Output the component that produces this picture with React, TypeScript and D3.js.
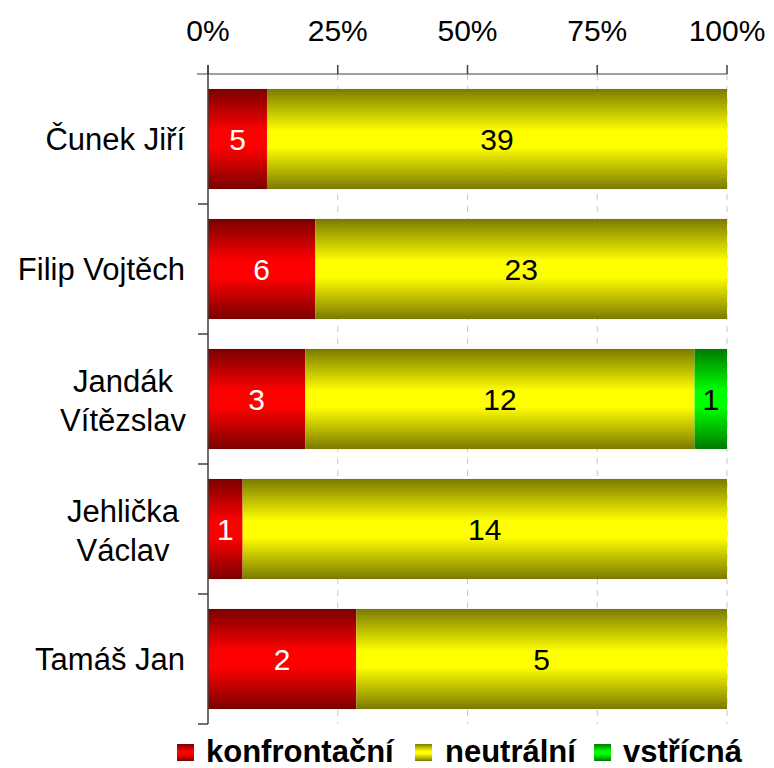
import React from "react";
import * as d3 from "d3";

const categories: string[][] = [["Čunek Jiří"], ["Filip Vojtěch"], ["Jandák", "Vítězslav"], ["Jehlička", "Václav"], ["Tamáš Jan"]];
const konfrontacni = [5, 6, 3, 1, 2];
const neutralni = [39, 23, 12, 14, 5];
const vstricna = [0, 0, 1, 0, 0];
const seriesNames = ["konfrontační", "neutrální", "vstřícná"];
const tickValues = [0, 0.25, 0.5, 0.75, 1];

const W = 774, H = 768;
const margin = { left: 208, right: 47, top: 74, bottom: 44 };
const colors = [
  { dark: "#7a0000", light: "#ff0000", text: "#ffffff" },
  { dark: "#7a7a00", light: "#ffff00", text: "#000000" },
  { dark: "#007a00", light: "#00ff00", text: "#000000" },
];
const FONT = "'Liberation Sans', Arial, sans-serif";

export default function App() {
  const x = d3.scaleLinear().domain([0, 1]).range([margin.left, W - margin.right]);
  const y = d3
    .scaleBand<number>()
    .domain(categories.map((_, i) => i))
    .range([margin.top, H - margin.bottom])
    .paddingInner(0.23)
    .paddingOuter(0.115);
  const step = y.step();
  const series = [konfrontacni, neutralni, vstricna];
  const rows = categories.map((_, i) => {
    const total = series.reduce((s, a) => s + a[i], 0);
    let acc = 0;
    return series.map((a, k) => {
      const x0 = acc / total;
      acc += a[i];
      return { k, v: a[i], x0, x1: acc / total };
    });
  });
  const yTop = margin.top;
  const yBot = H - margin.bottom;

  const legendItems = [
    { sx: 177, tx: 206 },
    { sx: 415, tx: 445 },
    { sx: 594, tx: 623 },
  ];

  return (
    <svg width={W} height={H} style={{ position: "absolute", left: 0, top: 0 }} fontFamily={FONT}>
      <defs>
        {colors.map((c, k) => (
          <linearGradient key={k} id={`g${k}`} x1="0" y1="0" x2="0" y2="1">
            <stop offset="0" stopColor={c.dark} />
            <stop offset="0.42" stopColor={c.light} />
            <stop offset="0.58" stopColor={c.light} />
            <stop offset="1" stopColor={c.dark} />
          </linearGradient>
        ))}
      </defs>
      <rect width={W} height={H} fill="#fff" />
      {tickValues.slice(1).map((t) => (
        <line key={t} x1={x(t)} x2={x(t)} y1={yTop} y2={yBot} stroke="#c8c8c8" strokeWidth={1} strokeDasharray="6,6" />
      ))}
      {rows.map((r, i) =>
        r.map((s) =>
          s.v > 0 ? (
            <g key={`${i}-${s.k}`}>
              <rect x={x(s.x0)} y={y(i)!} width={x(s.x1) - x(s.x0)} height={y.bandwidth()} fill={`url(#g${s.k})`} />
              <text
                x={(x(s.x0) + x(s.x1)) / 2}
                y={y(i)! + y.bandwidth() / 2}
                dy="0.36em"
                textAnchor="middle"
                fontSize={30}
                fill={colors[s.k].text}
              >
                {s.v}
              </text>
            </g>
          ) : null
        )
      )}
      <line x1={margin.left - 11} x2={x(1)} y1={yTop} y2={yTop} stroke="#808080" strokeWidth={1.5} />
      {tickValues.map((t) => (
        <g key={t}>
          <line x1={x(t)} x2={x(t)} y1={yTop - 9} y2={yTop} stroke="#404040" strokeWidth={1.5} />
          <text x={x(t)} y={30} dy="0.36em" textAnchor="middle" fontSize={30} fill="#000">
            {d3.format(".0%")(t)}
          </text>
        </g>
      ))}
      <line x1={margin.left} x2={margin.left} y1={yTop - 9} y2={yBot} stroke="#404040" strokeWidth={1.5} />
      {categories.map((_, i) => (
        <line key={i} x1={margin.left - 10} x2={margin.left} y1={yTop + step * (i + 1)} y2={yTop + step * (i + 1)} stroke="#404040" strokeWidth={1.5} />
      ))}
      {categories.map((lines, i) => {
        const cy = y(i)! + y.bandwidth() / 2;
        if (lines.length === 1) {
          return (
            <text key={i} x={185} y={cy} dy="0.36em" textAnchor="end" fontSize={31} fill="#000">
              {lines[0]}
            </text>
          );
        }
        return (
          <text key={i} x={123} y={cy} textAnchor="middle" fontSize={31} fill="#000">
            {lines.map((l, j) => (
              <tspan key={j} x={123} y={cy + (j === 0 ? -7 : 32)}>
                {l}
              </tspan>
            ))}
          </text>
        );
      })}
      {seriesNames.map((n, k) => (
        <g key={n}>
          <rect x={legendItems[k].sx} y={744} width={17} height={17} fill={`url(#g${k})`} />
          <text x={legendItems[k].tx} y={762} fontSize={31} fontWeight="bold" fill="#000">
            {n}
          </text>
        </g>
      ))}
    </svg>
  );
}
